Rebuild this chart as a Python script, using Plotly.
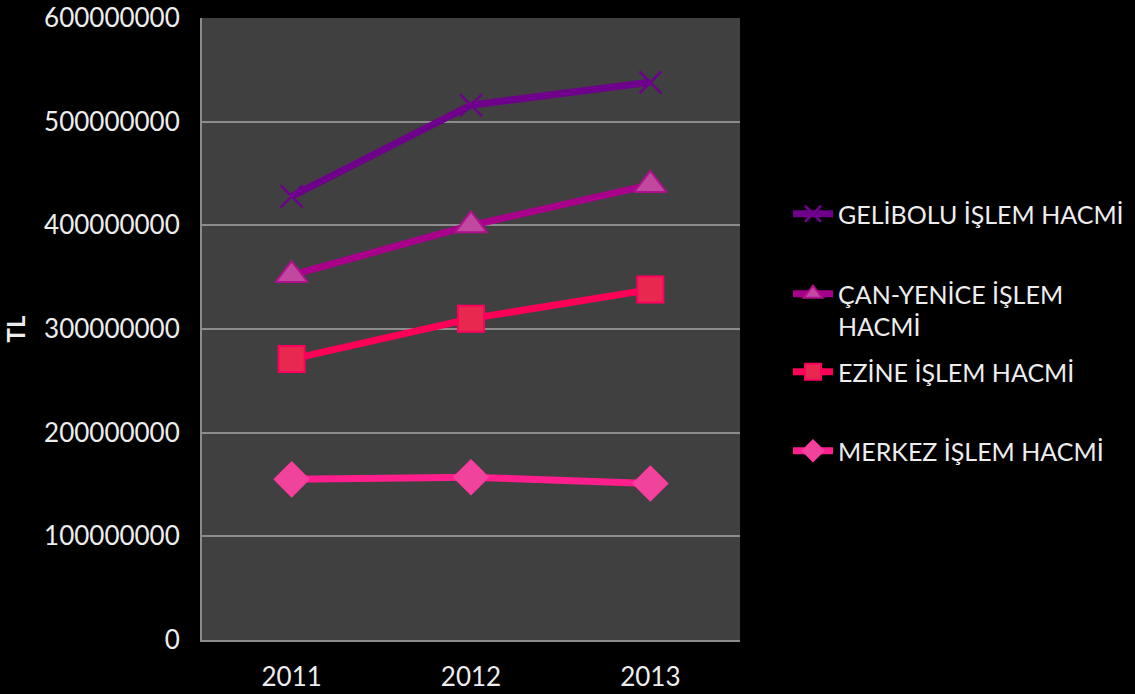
import plotly.graph_objects as go

years = ["2011", "2012", "2013"]
names = ["GELİBOLU İŞLEM HACMİ", "ÇAN-YENİCE İŞLEM<br>HACMİ", "EZİNE İŞLEM HACMİ", "MERKEZ İŞLEM HACMİ"]
gelibolu = [428000000, 516000000, 538000000]
can_yenice = [352000000, 400000000, 439000000]
ezine = [271000000, 310000000, 338000000]
merkez = [155000000, 157000000, 151000000]
y_ticks = [0, 100000000, 200000000, 300000000, 400000000, 500000000, 600000000]

series = [gelibolu, can_yenice, ezine, merkez]
line_colors = ["#6E008C", "#A8008A", "#FF0058", "#FF1F8C"]
marker_fill = ["#6E008C", "#C2479F", "#E8284E", "#F0449C"]
marker_line = ["#6E008C", "#B0108E", "#FF0060", "#FF3AA0"]
symbols = ["x-thin-open", "triangle-up", "square", "diamond"]
sizes = [22, 28, 26, 26]
legend_ids = ["legend", "legend2", "legend3", "legend4"]
legend_y = [215, 295, 373, 452]

FONT = "Lato"
TXT = "#EDEDED"
W, H = 1135, 694
L, R, T, B = 202, 395, 18, 54
plot_w = W - L - R
plot_h = H - T - B

fig = go.Figure()
for i in range(4):
    fig.add_trace(go.Scatter(
        x=years, y=series[i], name=names[i], mode="lines+markers",
        line=dict(color=line_colors[i], width=7),
        marker=dict(symbol=symbols[i], size=sizes[i], color=marker_fill[i],
                    line=dict(color=marker_line[i], width=2 if i else 2.5)),
        legend=legend_ids[i],
    ))

legends = {}
for i, lid in enumerate(legend_ids):
    legends[lid] = dict(
        x=(788 - L) / plot_w, xanchor="left",
        y=1 - (legend_y[i] - 24 - T) / plot_h, yanchor="top",
        bgcolor="rgba(0,0,0,0)", valign="top",
        font=dict(family=FONT, size=25, color=TXT),
        itemwidth=40,
    )

fig.update_layout(
    width=W, height=H,
    paper_bgcolor="black", plot_bgcolor="#404040",
    margin=dict(l=L, r=R, t=T, b=B, autoexpand=False),
    showlegend=True,
    font=dict(family=FONT, color=TXT),
    **legends,
)

fig.update_xaxes(
    type="category", range=[-0.5, 2.5],
    showline=True, linecolor="#8C8C8C", linewidth=2,
    showgrid=False, ticks="", ticklabelstandoff=13,
    tickfont=dict(family=FONT, size=26, color=TXT),
)
fig.update_yaxes(
    range=[0, 600000000], tickvals=y_ticks, ticktext=[str(v) for v in y_ticks],
    showline=True, linecolor="#8C8C8C", linewidth=2,
    showgrid=True, gridcolor="#8C8C8C", gridwidth=2,
    ticks="", ticklabelstandoff=15,
    tickfont=dict(family=FONT, size=26, color=TXT),
    title=dict(text="<b>TL</b>", font=dict(family=FONT, size=24, color=TXT), standoff=12),
    zeroline=False,
)
fig.write_html("out.html", config={"displayModeBar": False},
               post_script="document.body.style.margin='0';document.body.style.background='black';")
